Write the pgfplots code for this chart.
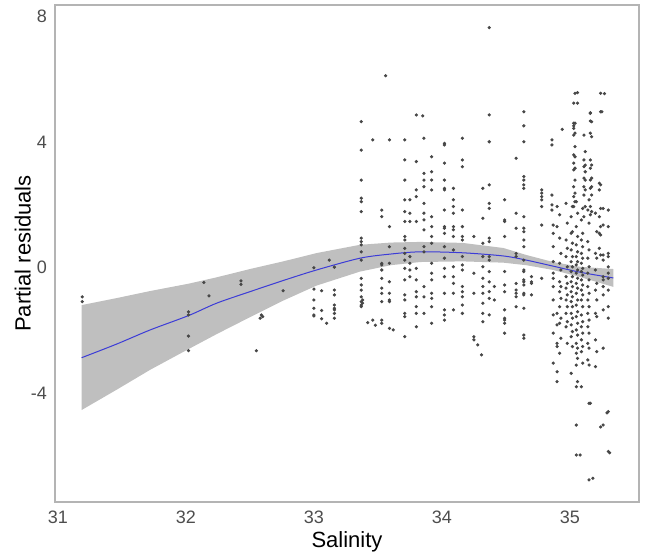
\documentclass[border=0pt]{standalone}
\usepackage{pgfplots}
\pgfplotsset{compat=1.18}
\usepackage{pgfplotstable}
\usepackage{fontspec}
\setmainfont{Liberation Sans}
\definecolor{tickgray}{RGB}{77,77,77}
\definecolor{framegray}{RGB}{180,180,180}
\definecolor{bandgray}{RGB}{191,191,191}
\definecolor{fitblue}{RGB}{60,60,215}

% values (raw reading scale); the y expr in the
% plots below applies the calibration of that reading to the printed ticks
\pgfplotstableread{
s v
31.19 -0.81
31.19 -0.96
32.02 -1.28
32.02 -1.38
32.02 -2.04
32.02 -2.50
32.14 -0.36
32.18 -0.78
32.43 -0.31
32.43 -0.42
32.55 -2.50
32.59 -1.38
32.60 -1.43
32.58 -1.48
32.76 -0.62
33.00 0.10
33.12 0.34
33.16 0.12
33.00 -0.57
33.00 -0.91
33.00 -1.17
33.00 -1.38
33.00 -1.41
33.06 -0.62
33.06 -1.24
33.06 -1.50
33.10 -1.64
33.16 -0.60
33.16 -0.75
33.16 -1.07
33.16 -1.17
33.16 -1.22
33.16 -1.33
33.16 -1.48
33.37 4.68
33.37 3.79
33.37 2.85
33.37 2.28
33.37 2.17
33.37 1.86
33.37 1.03
33.37 0.92
33.37 0.82
33.37 0.60
33.37 0.34
33.37 -0.23
33.37 -0.44
33.37 -0.60
33.37 -0.81
33.37 -0.96
33.37 -1.07
33.37 -1.12
33.38 -1.01
33.38 -0.91
33.46 4.11
33.46 -1.54
33.42 -1.62
33.48 -1.70
33.53 1.91
33.53 1.70
33.53 0.24
33.53 0.19
33.53 0.03
33.53 -0.23
33.53 -0.54
33.53 -0.70
33.53 -0.96
33.53 -1.54
33.53 -1.64
33.56 6.12
33.59 4.11
33.59 1.39
33.59 0.76
33.59 0.24
33.59 -0.34
33.59 -0.70
33.59 -0.91
33.59 -0.96
33.59 -1.80
33.62 -1.85
33.71 4.11
33.71 3.48
33.71 2.85
33.71 2.23
33.71 1.86
33.71 1.55
33.71 1.08
33.71 0.97
33.71 0.71
33.71 0.55
33.71 0.34
33.71 0.08
33.71 -0.28
33.71 -0.75
33.71 -0.91
33.71 -1.33
33.71 -1.43
33.71 -2.06
33.75 2.23
33.75 1.81
33.75 1.55
33.75 0.45
33.75 0.24
33.75 0.03
33.75 -0.18
33.80 4.89
33.80 3.43
33.80 2.54
33.80 2.33
33.80 1.55
33.80 0.08
33.80 -0.28
33.80 -0.65
33.80 -0.81
33.80 -1.12
33.80 -1.33
33.80 -1.75
33.85 4.86
33.86 4.16
33.86 3.06
33.86 2.85
33.86 2.64
33.86 2.12
33.86 1.81
33.86 1.60
33.86 1.29
33.86 0.76
33.86 0.60
33.86 -0.49
33.86 -0.81
33.86 -1.33
33.92 3.58
33.92 3.11
33.92 2.85
33.92 2.54
33.92 1.70
33.92 1.39
33.92 1.08
33.92 0.87
33.92 0.24
33.92 -0.07
33.92 -0.28
33.92 -0.70
33.92 -0.86
33.92 -1.12
33.92 -1.64
34.02 4.00
34.02 3.95
34.02 3.38
34.02 2.85
34.02 2.59
34.02 2.54
34.02 1.91
34.02 1.39
34.02 1.34
34.02 1.18
34.02 0.76
34.02 0.40
34.02 0.08
34.02 -0.18
34.02 -0.70
34.02 -1.22
34.02 -1.38
34.02 -1.54
34.09 2.59
34.09 2.23
34.09 2.02
34.09 1.81
34.09 1.39
34.09 1.29
34.09 1.08
34.09 0.66
34.09 0.13
34.09 -0.18
34.09 -0.39
34.09 -0.70
34.09 -1.22
34.16 4.16
34.16 3.48
34.16 3.27
34.16 1.91
34.16 1.39
34.16 1.08
34.16 0.97
34.16 0.45
34.16 0.19
34.16 0.03
34.16 -0.49
34.16 -0.65
34.16 -0.81
34.16 -1.07
34.16 -1.33
34.25 1.08
34.25 -0.07
34.25 -0.70
34.25 -2.06
34.25 -2.16
34.28 -2.32
34.31 -2.63
34.32 2.59
34.32 1.65
34.32 0.87
34.32 0.45
34.32 0.13
34.32 -0.23
34.32 -0.49
34.32 -0.70
34.32 -1.01
34.32 -1.33
34.32 -1.59
34.37 7.63
34.37 4.89
34.37 4.05
34.37 2.70
34.37 2.12
34.37 1.96
34.37 1.03
34.37 0.92
34.37 0.45
34.37 0.34
34.37 -0.02
34.37 -0.34
34.37 -0.65
34.37 -0.86
34.37 -1.38
34.41 -0.49
34.41 -0.91
34.49 2.23
34.49 1.60
34.49 1.55
34.49 1.08
34.49 -0.02
34.49 -0.44
34.49 -0.65
34.49 -1.22
34.49 -1.48
34.49 -1.54
34.49 -1.64
34.49 -1.95
34.58 3.53
34.58 1.81
34.58 1.34
34.58 0.55
34.58 0.45
34.58 -0.39
34.58 -0.60
34.58 -0.70
34.58 -0.81
34.58 -1.12
34.64 4.99
34.64 4.55
34.64 4.05
34.64 2.96
34.64 2.85
34.64 2.70
34.64 2.59
34.64 1.70
34.64 1.34
34.64 1.23
34.64 0.97
34.64 0.76
34.64 0.34
34.64 0.03
34.64 -0.02
34.64 -0.28
34.64 -0.34
34.64 -0.44
34.64 -0.70
34.64 -0.75
34.64 -1.17
34.64 -2.01
34.64 -2.11
34.70 -0.18
34.70 -0.34
34.70 -0.39
34.70 -0.75
34.78 2.54
34.78 2.44
34.78 2.33
34.78 2.23
34.78 2.02
34.78 1.44
34.78 -0.23
34.94 4.44
34.86 4.11
34.86 3.95
34.86 2.38
34.86 2.07
34.86 1.91
34.87 1.44
34.87 1.18
34.87 0.76
34.87 0.29
34.87 -0.07
34.87 -0.23
34.87 -0.49
34.87 -0.91
34.87 -1.38
34.87 -1.95
34.87 -2.89
34.90 2.02
34.90 1.39
34.90 -1.33
34.90 -1.69
34.90 -2.27
34.90 -2.37
34.90 -3.16
34.90 -3.47
34.92 1.76
34.92 1.03
34.93 0.55
34.92 0.24
34.93 0.03
34.92 -0.34
34.93 -0.49
34.92 -0.65
34.93 -0.86
34.92 -1.12
34.93 -1.48
34.92 -1.64
34.93 -2.11
34.92 -2.58
34.97 2.12
34.98 1.50
34.97 0.97
34.98 0.71
34.97 0.45
34.98 0.13
34.97 -0.18
34.98 -0.39
34.97 -0.54
34.98 -0.75
34.97 -0.91
34.98 -1.12
34.97 -1.33
34.98 -1.59
34.97 -1.75
34.98 -2.27
35.02 2.02
35.01 1.70
35.02 1.23
35.01 1.18
35.02 0.87
35.01 0.66
35.02 0.45
35.01 0.29
35.02 0.13
35.01 -0.02
35.02 -0.18
35.01 -0.34
35.02 -0.49
35.01 -0.65
35.02 -0.81
35.01 -0.96
35.02 -1.12
35.01 -1.33
35.02 -1.48
35.01 -1.69
35.02 -1.90
35.01 -2.06
35.02 -2.37
35.01 -3.21
35.03 4.63
35.03 4.55
35.06 5.59
35.06 5.26
35.05 2.17
35.06 1.81
35.05 1.39
35.06 1.08
35.05 0.82
35.06 0.60
35.05 0.45
35.06 0.29
35.05 0.19
35.06 0.03
35.05 -0.07
35.06 -0.23
35.05 -0.39
35.06 -0.54
35.05 -0.70
35.06 -0.91
35.05 -1.07
35.06 -1.28
35.05 -1.43
35.06 -1.64
35.05 -1.85
35.06 -2.01
35.05 -2.27
35.06 -2.42
35.05 -2.58
35.06 -2.74
35.05 -2.95
35.06 -3.47
35.05 -3.63
35.05 -4.83
35.05 -5.77
35.04 5.57
35.03 5.26
35.04 4.63
35.03 4.47
35.04 4.32
35.03 4.26
35.04 3.90
35.03 3.64
35.04 3.58
35.03 3.38
35.04 3.22
35.03 3.17
35.04 2.85
35.03 2.64
35.04 2.44
35.03 2.33
35.04 2.17
35.03 2.02
35.10 1.96
35.09 1.60
35.10 1.18
35.09 0.97
35.10 0.76
35.09 0.55
35.10 0.40
35.09 0.24
35.10 0.08
35.09 -0.02
35.10 -0.13
35.09 -0.28
35.10 -0.44
35.09 -0.60
35.10 -0.75
35.09 -0.91
35.10 -1.12
35.09 -1.38
35.10 -1.59
35.09 -1.75
35.10 -1.95
35.09 -2.16
35.10 -2.37
35.09 -2.53
35.10 -2.89
35.09 -3.63
35.11 4.26
35.12 3.74
35.11 3.48
35.12 3.32
35.11 3.27
35.12 3.11
35.11 2.91
35.12 2.85
35.11 2.64
35.12 2.54
35.11 2.38
35.12 2.02
35.11 1.70
35.15 2.23
35.14 1.91
35.15 1.50
35.14 0.92
35.15 0.66
35.14 0.40
35.15 0.13
35.14 -0.07
35.15 -0.28
35.14 -0.49
35.15 -0.70
35.14 -0.91
35.15 -1.12
35.14 -1.33
35.15 -1.54
35.14 -1.75
35.15 -1.95
35.14 -2.27
35.15 -2.42
35.14 -2.79
35.15 -2.95
35.15 -4.15
35.15 -6.55
35.16 4.94
35.17 4.68
35.16 4.32
35.17 4.21
35.16 3.48
35.17 3.32
35.16 3.22
35.17 2.91
35.16 2.85
35.17 2.64
35.16 2.59
35.17 2.38
35.16 2.02
35.17 1.86
35.16 1.76
35.16 4.96
35.16 4.70
35.20 1.81
35.21 1.23
35.20 0.55
35.21 0.40
35.20 0.03
35.21 -0.39
35.20 -0.60
35.21 -0.91
35.20 -1.33
35.21 -1.43
35.20 -2.16
35.21 -2.53
35.20 -3.00
35.24 5.57
35.24 4.99
35.23 2.75
35.24 2.70
35.23 2.54
35.24 1.96
35.23 1.70
35.24 1.39
35.23 1.18
35.24 1.13
35.23 0.71
35.24 0.50
35.25 4.99
35.26 1.96
35.26 1.44
35.26 0.50
35.26 0.34
35.26 -0.18
35.26 -0.28
35.26 -0.49
35.26 -0.75
35.26 -1.22
35.26 -2.42
35.26 -4.83
35.27 5.56
35.30 1.91
35.30 1.39
35.30 0.55
35.30 0.45
35.30 0.13
35.30 -0.07
35.30 -0.23
35.30 -0.60
35.30 -1.12
35.30 -1.48
35.30 -4.41
35.30 -5.66
35.16 -4.15
35.24 -4.89
35.29 -4.45
35.31 -5.70
35.08 -5.77
35.18 -6.50
}\ptsdata

\pgfplotstableread{
s fit
31.185 -2.72
31.46 -2.29
31.72 -1.85
32.02 -1.40
32.24 -1.01
32.50 -0.65
32.76 -0.30
33.02 0.03
33.36 0.40
33.60 0.53
33.83 0.60
34.16 0.57
34.48 0.47
34.66 0.34
34.87 0.15
35.08 -0.04
35.34 -0.22
}\fitdata

% confidence band: upper edge left to right, then lower edge right to left
\pgfplotstableread{
s b
31.185 -1.07
31.46 -0.85
31.72 -0.63
32.02 -0.40
32.24 -0.20
32.50 0.06
32.76 0.30
33.02 0.56
33.36 0.82
33.60 0.89
33.83 0.91
34.16 0.88
34.48 0.72
34.66 0.50
34.87 0.28
35.08 0.13
35.34 0.06
35.34 -0.50
35.08 -0.19
34.87 0.03
34.66 0.18
34.48 0.26
34.16 0.30
33.83 0.28
33.60 0.18
33.36 -0.02
33.02 -0.46
32.76 -0.93
32.50 -1.45
32.24 -1.98
32.02 -2.45
31.72 -3.10
31.46 -3.72
31.185 -4.36
}\banddata

\begin{document}
\begin{tikzpicture}
\begin{axis}[
  scale only axis,
  width=292pt, height=248.5pt,
  xmin=30.977, xmax=35.54,
  ymin=-7.47, ymax=8.36,
  xtick={31,32,33,34,35},
  ytick={-4,0,4,8},
  major tick length=0pt,
  axis line style={framegray, line width=0.8pt},
  tick label style={font=\fontsize{9}{10}\selectfont, text=tickgray},
  /pgf/number format/assume math mode=true,
  xticklabel style={yshift=-1pt},
  yticklabel style={xshift=-0.5pt},
  xlabel={Salinity},
  ylabel={Partial residuals},
  label style={font=\fontsize{11}{13}\selectfont},
  xlabel style={at={(axis description cs:0.5,0)}, anchor=north, yshift=-11pt},
  ylabel style={at={(axis description cs:0,0.5)}, anchor=south, yshift=8.5pt},
]
\addplot[fill=bandgray, draw=none] table[x=s, y expr={1.016*\thisrow{b}-0.111}] {\banddata} -- cycle;
\addplot[only marks, mark=*, mark size=0.6pt, black!72] table[x=s, y expr={1.016*\thisrow{v}-0.111}] {\ptsdata};
\addplot[fitblue, line width=0.5pt, smooth] table[x=s, y expr={1.016*\thisrow{fit}-0.111}] {\fitdata};
\end{axis}
\path (-27.5pt,-26pt) rectangle (295pt,251pt);
\end{tikzpicture}
\end{document}
